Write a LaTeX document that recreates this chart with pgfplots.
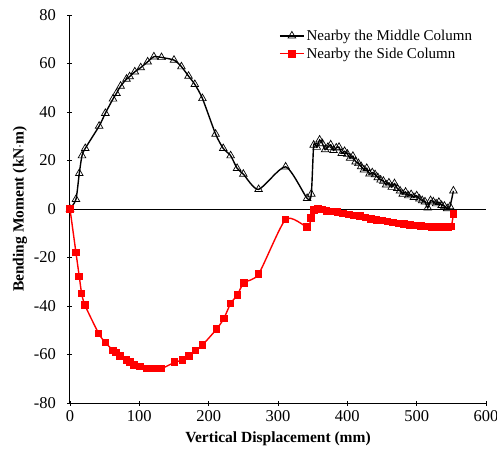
\documentclass[border=0pt]{standalone}
\usepackage{pgfplots}
\pgfplotsset{compat=1.18}
\usepackage{fontspec}
\setmainfont{Liberation Serif}

\begin{document}
\begin{tikzpicture}
% fixed canvas around the axis box (axis box south west sits at the origin)
\path[use as bounding box] (-70pt,-63pt) rectangle (427pt,403pt);
\begin{axis}[
  scale only axis,
  width=416pt, height=388pt,
  xmin=0, xmax=600, ymin=-80, ymax=80,
  xtick={0,100,...,600}, ytick={-80,-60,...,80},
  axis x line=bottom, axis y line=left,
  axis line style={-, line width=1pt},
  tick align=center, major tick length=5pt,
  tick style={black, line width=0.8pt},
  /pgf/number format/assume math mode=true,
  ticklabel style={font=\fontsize{16.5}{18}\selectfont},
  xticklabel style={yshift=-1pt},
  yticklabel style={xshift=-8pt},
  xlabel={\textbf{Vertical Displacement (mm)}},
  ylabel={\textbf{Bending Moment (kN$\cdot$m)}},
  label style={font=\fontsize{15.5}{18}\selectfont},
  xlabel style={at={(0.5,0)}, anchor=center, yshift=-36pt},
  ylabel style={at={(0,0.5)}, anchor=center, yshift=50pt},
  legend style={draw=none, fill=none, at={(0.5,0.97)}, anchor=north west,
    font=\fontsize{15}{17}\selectfont, row sep=2pt, inner sep=1pt},
  legend cell align=left,
  legend image code/.code={%
    \draw[mark repeat=2, mark phase=2, #1] plot coordinates {(0pt,0pt) (12pt,0pt) (24pt,0pt)};},
  clip=false,
]
% reference line at zero moment
\addplot[black, line width=0.7pt, forget plot] coordinates {(0,0) (600,0)};

\addplot[black, line width=1.4pt, smooth, tension=0.4,
  mark=triangle, mark size=4.4pt, mark options={solid, fill=white, line width=0.7pt}]
coordinates {
(0,0) (8.6,4.0) (13.4,14.7) (17.3,22) (22,25) (42,34.2) (51,39.5) (62,45.4)
(67,47.7) (73,50.7) (81.5,53.6) (86,54.6) (93.5,56.6) (102,58.3) (112,60.7)
(121,62.8) (132,62.5) (150,61.4) (160.7,58.7) (171,54.8) (180,51.4) (191,45.6)
(210,30.9) (221,25) (231.7,22) (241,16.8) (250,14.4) (272,8.1) (311,17.4)
(342,4.4) (348,6.2) (351.5,26.4) (356,25.5) (360,28.5) (364,27) (368,24.5)
(372,25.5) (376,26.5) (380,24.2) (384,25.2) (388,25.5) (392,23) (396,23.8)
(400,22.7) (404,21) (408,21.8) (412,19.5) (416,18.8) (420,17.5) (424,16.2)
(428,16.8) (432,14.5) (436,15) (440,14.2) (444,13) (448,12) (452,11.5)
(456,10) (460,10.8) (464,9) (468,10.5) (472,8.5) (476,7.5) (480,6.2)
(484,7) (488,5.5) (492,6) (496,4.8) (500,5.5) (504,4.2) (508,3.5) (512,3)
(516,0.5) (520,3.5) (524,3) (528,2.2) (532,2.8) (536,1.5) (540,1.2)
(544,0.2) (548,1) (553,7.5)
};
\addlegendentry{Nearby the Middle Column}

\addplot[red, line width=1.4pt, smooth, tension=0.4,
  mark=square*, mark size=3.1pt, mark options={solid, fill=red}]
coordinates {
(0,0) (8.6,-18) (13.4,-27.9) (16.8,-34.8) (21.6,-39.7) (41.3,-51.3)
(51,-55.1) (62.3,-58.4) (66,-59.2) (72.4,-60.6) (81.5,-62.3) (86.3,-63.2)
(92.5,-64.3) (101,-65) (110.8,-65.8) (121.5,-65.8) (132,-65.8) (151,-63.2)
(162,-62.3) (171.7,-60.6) (180.8,-58.4) (191,-56.1) (211.5,-49.5)
(222,-45.1) (231.7,-38.9) (241.3,-35.5) (250.8,-30.4) (272,-26.8)
(311,-4.3) (342,-7.3) (348,-3.8) (352,-0.3) (358,0) (364,-0.2) (370,-0.8)
(378,-1) (386,-1.3) (394,-1.8) (402,-2.2) (410,-2.6) (418,-3) (426,-3.5)
(434,-4) (442,-4.5) (450,-4.8) (458,-5.2) (466,-5.6) (474,-6) (482,-6.3)
(490,-6.6) (498,-6.8) (506,-7) (514,-7.2) (522,-7.3) (530,-7.4) (538,-7.4)
(546,-7.3) (550,-7.2) (553,-2)
};
\addlegendentry{Nearby the Side Column}
\end{axis}
\end{tikzpicture}
\end{document}
